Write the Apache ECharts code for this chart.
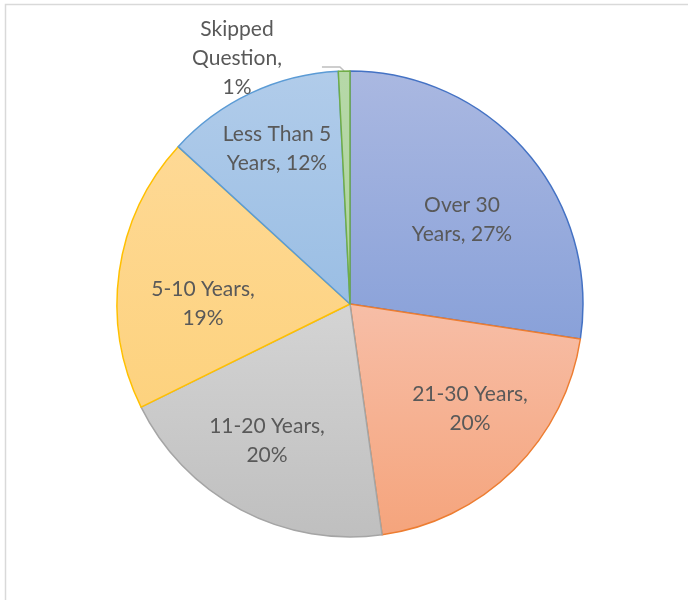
<!DOCTYPE html>
<html>
<head>
<meta charset="utf-8">
<script src="https://cdn.jsdelivr.net/npm/echarts@6/dist/echarts.min.js"></script>
<style>
  html, body { margin: 0; padding: 0; background: #fff; }
  #chart { width: 688px; height: 600px; }
</style>
</head>
<body>
<div id="chart"></div>
<script>
// ---- data ----
const categories = ['Over 30 Years', '21-30 Years', '11-20 Years', '5-10 Years', 'Less Than 5 Years', 'Skipped Question'];
const values = [27.4, 20.4, 19.9, 19.1, 12.4, 0.8];
const labelTexts = ['Over 30\nYears, 27%', '21-30 Years,\n20%', '11-20 Years,\n20%', '5-10 Years,\n19%', 'Less Than 5\nYears, 12%', 'Skipped\nQuestion,\n1%\n{s| }'];

// ---- styles ----
const fillTop = ['#aab8e1', '#f7bea7', '#d4d4d4', '#fed995', '#b1ccea', '#b6d8a8'];
const fillBottom = ['#89a1d9', '#f5a47c', '#bfbfbf', '#fdd27e', '#9abee4', '#b0d4a0'];
const strokes = ['#4472c4', '#ed7d31', '#a5a5a5', '#ffc000', '#5b9bd5', '#70ad47'];
const labelCenters = [[462, 220], [470, 409], [267, 441], [203, 304], [277, 149], [237, 67]];

const chart = echarts.init(document.getElementById('chart'), null, { renderer: 'canvas' });

const data = categories.map((c, i) => ({
  name: c,
  value: values[i],
  itemStyle: {
    color: new echarts.graphic.LinearGradient(0, 0, 0, 1, [
      { offset: 0, color: fillTop[i] },
      { offset: 1, color: fillBottom[i] }
    ]),
    borderColor: strokes[i],
    borderWidth: 1.5
  },
  label: i === 5 ? { position: 'outside', padding: [0, 40, 0, 40] } : { position: 'inside' },
  labelLine: { show: i === 5 }
}));

chart.setOption({
  backgroundColor: '#ffffff',
  animation: false,
  graphic: [{
    type: 'rect',
    shape: { x: 5.5, y: 4.5, width: 900, height: 900 },
    style: { fill: 'none', stroke: '#d9d9d9', lineWidth: 1.5 },
    silent: true,
    z: -10
  }],
  series: [{
    type: 'pie',
    center: [350, 304],
    radius: [0, 233],
    startAngle: 90,
    clockwise: true,
    avoidLabelOverlap: false,
    emphasis: { disabled: true },
    data: data,
    label: {
      show: true,
      formatter: p => labelTexts[p.dataIndex],
      fontFamily: 'Lato, sans-serif',
      fontSize: 21,
      lineHeight: 29,
      color: '#595959',
      align: 'center',
      rich: { s: { fontSize: 8, lineHeight: 18 } }
    },
    labelLine: {
      length: 4,
      length2: 18,
      smooth: false,
      lineStyle: { color: '#bfbfbf', width: 1.5 }
    },
    labelLayout: function (params) {
      const c = labelCenters[params.dataIndex];
      return { x: c[0], y: c[1], align: 'center', verticalAlign: 'middle', hideOverlap: false, moveOverlap: null };
    }
  }]
});
</script>
</body>
</html>
